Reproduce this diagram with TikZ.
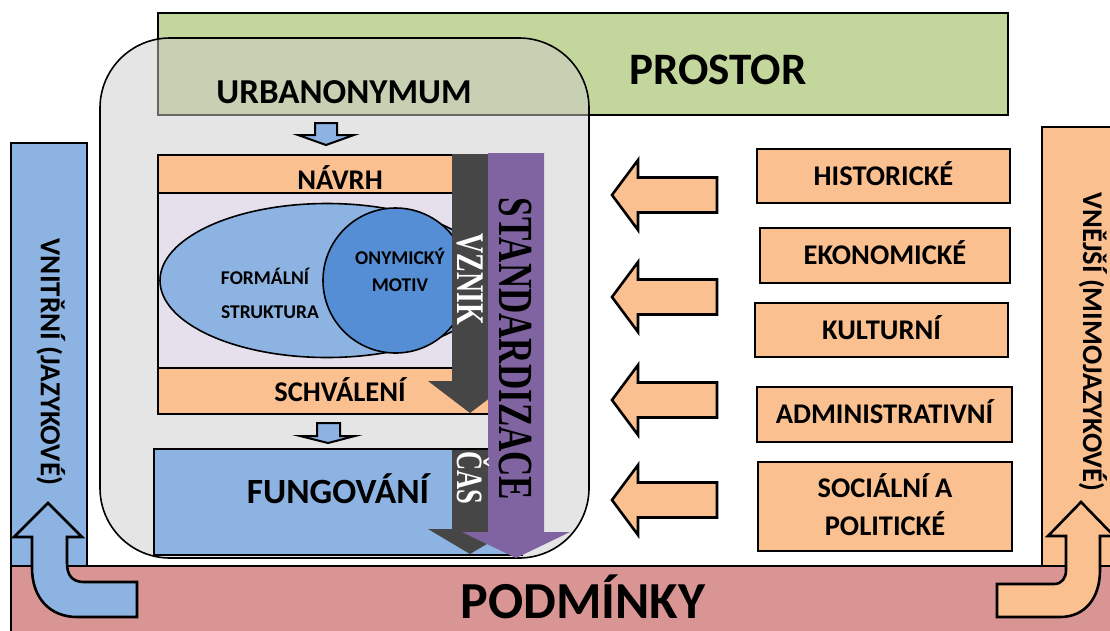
\documentclass[tikz,border=0pt]{standalone}
\usepackage{fontspec}
\setmainfont{Carlito}
\newfontfamily\timesfont{Liberation Serif}
\usetikzlibrary{shapes.geometric}

\definecolor{prostorgreen}{HTML}{C3D69B}
\definecolor{boxorange}{HTML}{FAC090}
\definecolor{boxblue}{HTML}{8DB3E2}
\definecolor{motivblue}{HTML}{558ED5}
\definecolor{lavender}{HTML}{E6E0EC}
\definecolor{podpink}{HTML}{D99594}
\definecolor{darkarrow}{HTML}{464646}
\definecolor{stdpurple}{HTML}{8064A2}

\tikzset{
  box/.style={draw=black, line width=2.2pt, inner sep=0pt, outer sep=0pt},
  txt/.style={font=\fontsize{#1}{#1}\selectfont\bfseries, inner sep=0pt, text height={0.632*#1pt}, text depth=0pt},
  sertxt/.style={font=\timesfont\bfseries\fontsize{#1}{#1}\selectfont, inner sep=0pt, text height={0.927*#1pt}, text depth=0pt, rotate=-90},
  blockarrow/.style={draw=black, line width=2.6pt},
  smallarrow/.style={draw=black, line width=2pt, fill=boxblue}
}

\begin{document}
\begin{tikzpicture}[x=1pt,y=-1pt]
\useasboundingbox (0,0) rectangle (1110,630);
\clip (0,0) rectangle (1110,630);

% podminky and the two side bars
\node[box, fill=podpink, minimum width=1115pt, minimum height=80pt] (podm) at (568.5,606) {};
\node[txt=52] (podmlbl) at (583,602) {PODMÍNKY};
\node[box, fill=boxblue, minimum width=76pt, minimum height=423pt] (vnitr) at (49,354.5) {};
\node[txt=29, rotate=-90] (vnitrlbl) at (50,362) {VNITŘNÍ (JAZYKOVÉ)};
\node[box, fill=boxorange, minimum width=80pt, minimum height=439pt] (vnejs) at (1082,346.5) {};
\node[txt=28.5, rotate=-90] (vnejslbl) at (1092,342) {VNĚJŠÍ (MIMOJAZYKOVÉ)};

% prostor
\node[box, fill=prostorgreen, minimum width=850pt, minimum height=102pt] (prostor) at (583,64) {};
\node[txt=45] (prostorlbl) at (718,70) {PROSTOR};

% urbanonymum
\node[box, line width=1.6pt, rounded corners=70pt, fill=black!20, fill opacity=0.5, minimum width=489pt, minimum height=520pt] (urban) at (344.5,298) {};
\node[txt=35] (urbanlbl) at (344,92) {URBANONYMUM};

\node[box, fill=lavender, minimum width=364pt, minimum height=175pt] (vnitrek) at (340,280.5) {};
\node[box, fill=boxorange, minimum width=364pt, minimum height=38pt] (navrh) at (340,174) {};
\node[txt=28.5] (navrhlbl) at (340,180) {NÁVRH};
\node[box, fill=boxorange, minimum width=364pt, minimum height=46pt] (schval) at (340,391) {};
\node[txt=28.5] (schvallbl) at (340,392) {SCHVÁLENÍ};
\node[ellipse, draw, line width=1.6pt, fill=boxblue, minimum width=334pt, minimum height=154pt, inner sep=0pt] (forma) at (327,280.5) {};
\node[ellipse, draw, line width=1.6pt, fill=motivblue, minimum width=145pt, minimum height=145pt, inner sep=0pt] (motiv) at (395.5,280.5) {};
\node[txt=19.5] (formalbl) at (265,278) {FORMÁLNÍ};
\node[txt=19.5] (strukturalbl) at (270,312) {STRUKTURA};
\node[txt=19.5] (onymlbl) at (400,258) {ONYMICKÝ};
\node[txt=19.5] (motivlbl) at (400,285) {MOTIV};
\node[box, fill=boxblue, minimum width=368pt, minimum height=106pt] (fung) at (338,502) {};
\node[txt=35.5] (funglbl) at (338,492) {FUNGOVÁNÍ};

% time arrows
\fill[darkarrow] (452,154) -- (488,154) -- (488,381) -- (512,381) -- (470,413) -- (428,381) -- (452,381) -- cycle;
\fill[darkarrow] (452,450) -- (488,450) -- (488,529) -- (512,529) -- (470,554) -- (428,529) -- (452,529) -- cycle;
\fill[stdpurple] (488,153) -- (544,153) -- (544,532) -- (570,532) -- (516,558) -- (462,532) -- (488,532) -- cycle;
\node[sertxt=28, text=white] (vzniklbl) at (470,279) {\scalebox{1}[1.4]{VZNIK}};
\node[sertxt=26.5, text=white] (caslbl) at (470,478) {\scalebox{1}[1.4]{ČAS}};
\node[sertxt=35] (stdlbl) at (516,349) {\scalebox{1}[1.4]{STANDARDIZACE}};

% small arrows
\draw[smallarrow] (315,123) -- (337,123) -- (337,135) -- (354,135) -- (326,145) -- (298,135) -- (315,135) -- cycle;
\draw[smallarrow] (317,423) -- (340,423) -- (340,436) -- (355,436) -- (328,443) -- (300,436) -- (317,436) -- cycle;

% influences
\foreach \yy in {195,297,400,500}
  \draw[blockarrow, fill=boxorange] (612,\yy) -- (638,\yy-35) -- (638,\yy-17.5) -- (717,\yy-17.5)
    -- (717,\yy+17.5) -- (638,\yy+17.5) -- (638,\yy+35) -- cycle;

\node[box, txt=28.5, fill=boxorange, minimum width=253pt, minimum height=54pt] (hist) at (883.5,176) {HISTORICKÉ};
\node[box, txt=28.5, fill=boxorange, minimum width=250pt, minimum height=55pt] (ekon) at (885,255.5) {EKONOMICKÉ};
\node[box, txt=28.5, fill=boxorange, minimum width=253pt, minimum height=54pt] (kult) at (881.5,330) {KULTURNÍ};
\node[box, txt=28.5, fill=boxorange, minimum width=255pt, minimum height=55pt] (admin) at (884.5,414.5) {ADMINISTRATIVNÍ};
\node[box, fill=boxorange, minimum width=254pt, minimum height=89pt] (soc) at (885,506.5) {};
\node[txt=28.5] (soclbl) at (885,488) {SOCIÁLNÍ A};
\node[txt=28.5] (pollbl) at (885,526) {POLITICKÉ};

% curved arrows
\draw[blockarrow, fill=boxblue] (137,582) -- (137,617) -- (77,617) .. controls (50,617) and (32,598) .. (32,568)
  -- (32,537) -- (14,537) -- (48,503) -- (82,537) -- (67,537) -- (67,563) .. controls (67,575) and (72,582) .. (84,582) -- cycle;
\draw[blockarrow, fill=boxorange] (997,584) -- (997,617) -- (1060,617) .. controls (1085,617) and (1100,598) .. (1100,570)
  -- (1100,536) -- (1114,536) -- (1081,502) -- (1048,536) -- (1066,536) -- (1066,570) .. controls (1066,578) and (1062,584) .. (1054,584) -- cycle;
\end{tikzpicture}
\end{document}
